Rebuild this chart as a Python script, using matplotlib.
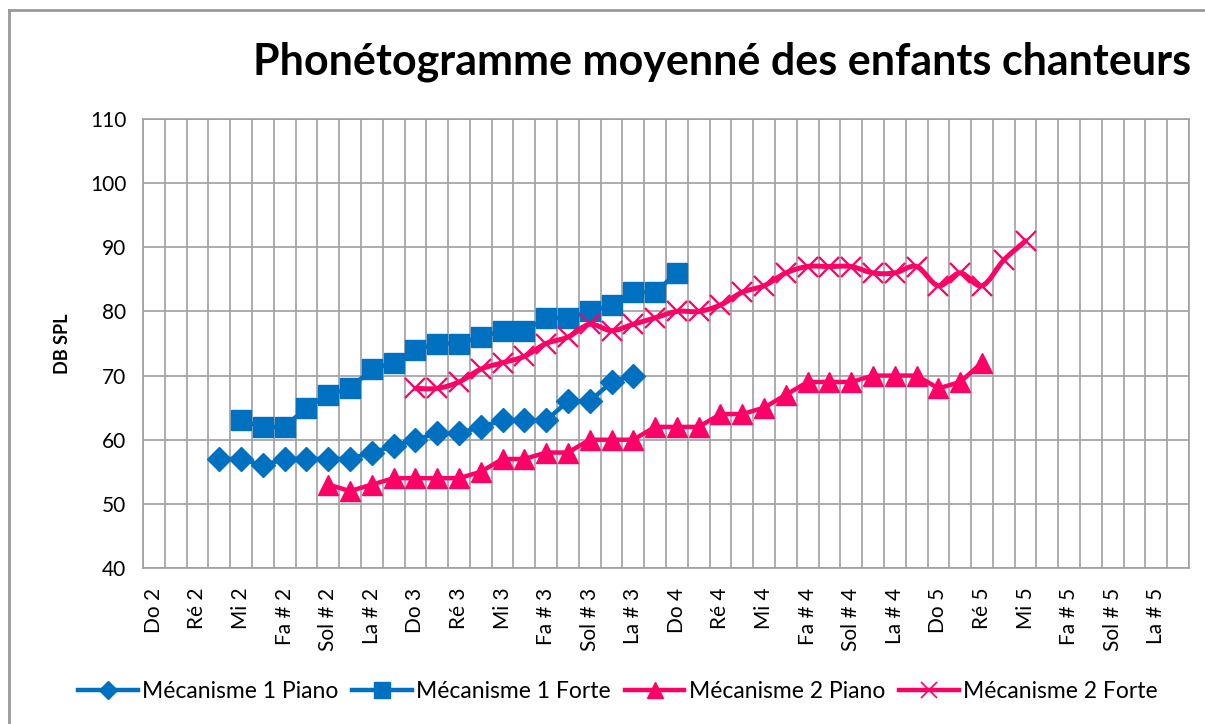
import numpy as np
import matplotlib
matplotlib.use("Agg")
import matplotlib.pyplot as plt
from matplotlib.path import Path
from matplotlib.patches import PathPatch
from matplotlib.lines import Line2D

plt.rcParams['font.family'] = ['Lato', 'DejaVu Sans']

# ---- data ----
notes = ["Do", "Do #", "Ré", "Ré #", "Mi", "Fa", "Fa #", "Sol", "Sol #", "La", "La #", "Si"]
octaves = [2, 3, 4, 5]
categories = [f"{n} {o}" for o in octaves for n in notes]

m1_piano_start = 3
m1_piano = [57, 57, 56, 57, 57, 57, 57, 58, 59, 60, 61, 61, 62, 63, 63, 63, 66, 66, 69, 70]
m1_forte_start = 4
m1_forte = [63, 62, 62, 65, 67, 68, 71, 72, 74, 75, 75, 76, 77, 77, 79, 79, 80, 81, 83, 83, 86]
m2_piano_start = 8
m2_piano = [53, 52, 53, 54, 54, 54, 54, 55, 57, 57, 58, 58, 60, 60, 60, 62, 62, 62, 64, 64,
            65, 67, 69, 69, 69, 70, 70, 70, 68, 69, 72]
m2_forte_start = 12
m2_forte = [68, 68, 69, 71, 72, 73, 75, 76, 78, 77, 78, 79, 80, 80, 81, 83, 84, 86, 87, 87,
            87, 86, 86, 87, 84, 86, 84, 88, 91]

series_names = ["Mécanisme 1 Piano", "Mécanisme 1 Forte", "Mécanisme 2 Piano", "Mécanisme 2 Forte"]
blue = "#0070C0"
pink = "#FF0066"

fig = plt.figure(figsize=(12.05, 7.24), dpi=100)
ax = fig.add_axes([143 / 1205, 1 - 568 / 724, (1189 - 143) / 1205, (568 - 119) / 724])

n = len(categories)


def smooth_path(xs, ys):
    xs = np.asarray(xs, float)
    ys = np.asarray(ys, float)
    P = np.column_stack([xs, ys])
    verts = [P[0]]
    codes = [Path.MOVETO]
    for i in range(len(P) - 1):
        p0 = P[i - 1] if i > 0 else P[i]
        p1 = P[i]
        p2 = P[i + 1]
        p3 = P[i + 2] if i + 2 < len(P) else P[i + 1]
        c1 = p1 + (p2 - p0) / 6.0
        c2 = p2 - (p3 - p1) / 6.0
        verts += [c1, c2, p2]
        codes += [Path.CURVE4] * 3
    return Path(verts, codes)


lw = 3.2
# M1 Piano
x = np.arange(m1_piano_start, m1_piano_start + len(m1_piano))
ax.plot(x, m1_piano, color=blue, lw=lw, marker='D', ms=12.5, zorder=3)
# M1 Forte
x = np.arange(m1_forte_start, m1_forte_start + len(m1_forte))
ax.plot(x, m1_forte, color=blue, lw=lw, marker='s', ms=14.5, zorder=3)
# M2 Piano
x = np.arange(m2_piano_start, m2_piano_start + len(m2_piano))
ax.plot(x, m2_piano, color=pink, lw=lw, marker='^', ms=15, zorder=3)
# M2 Forte (smoothed)
x = np.arange(m2_forte_start, m2_forte_start + len(m2_forte))
ax.add_patch(PathPatch(smooth_path(x, m2_forte), facecolor='none', edgecolor=pink, lw=3.6,
                       zorder=3, capstyle='round', joinstyle='round'))
ax.plot(x, m2_forte, linestyle='none', marker='x', ms=14, mew=1.6, color=pink, zorder=4)

ax.set_xlim(-0.5, n - 0.5)
ax.set_ylim(40, 110)
ax.set_yticks(np.arange(40, 111, 10))
ax.set_xticks(np.arange(0, n, 2))
ax.set_xticklabels(categories[::2], rotation=90, fontsize=15)
ax.set_xticks(np.arange(-0.5, n, 1), minor=True)
ax.tick_params(axis='both', which='both', length=0)
ax.tick_params(axis='x', pad=14)
ax.tick_params(axis='y', labelsize=15, pad=12)
ax.grid(True, which='minor', axis='x', color='#A0A0A0', lw=1.2)
ax.grid(True, which='major', axis='y', color='#A0A0A0', lw=1.2)
ax.grid(False, which='major', axis='x')
for s in ax.spines.values():
    s.set_color('#A0A0A0')
    s.set_linewidth(1.2)
ax.set_axisbelow(True)

ax.set_ylabel("DB SPL", fontsize=13, fontweight='bold', labelpad=14)

fig.text(722 / 1205, 1 - 62 / 724, "Phonétogramme moyenné des enfants chanteurs",
         ha='center', va='center', fontsize=31, fontweight='bold')

handles = [
    Line2D([], [], color=blue, lw=lw, marker='D', ms=9),
    Line2D([], [], color=blue, lw=lw, marker='s', ms=11),
    Line2D([], [], color=pink, lw=lw, marker='^', ms=11),
    Line2D([], [], color=pink, lw=lw, marker='x', ms=11, mew=1.2),
]
fig.legend(handles, series_names, loc='center', bbox_to_anchor=(618 / 1205, 1 - 692 / 724),
           ncol=4, frameon=False, fontsize=16.5, handlelength=2.6, handletextpad=0.2,
           columnspacing=0.6)

# outer chart frame (left and top visible)
fig.add_artist(Line2D([9 / 1205, 9 / 1205], [0, 1 - 10 / 724], color='#999999', lw=2,
                      transform=fig.transFigure))
fig.add_artist(Line2D([9 / 1205, 1], [1 - 10 / 724, 1 - 10 / 724], color='#999999', lw=2,
                      transform=fig.transFigure))

fig.savefig("out.png", dpi=100)
